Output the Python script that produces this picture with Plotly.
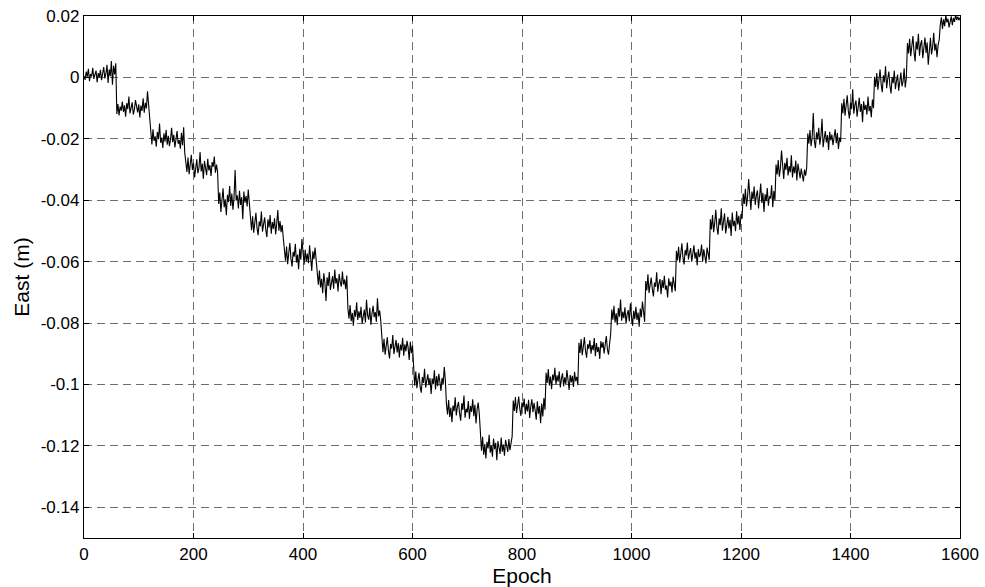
import plotly.graph_objects as go

east_mm_steps = [
    [0.5, -0.8, 1.9, 0.2, 2.8, -1.2, 1.1, 0.3, 3.1, -0.5, 0.9, 2.2, -1.6, 1.4, 0.0, 2.5, -0.9, 1.7, 3.4, -0.3, 1.2, 4.1, -1.8, 2.6, 0.4, 5.3, -2.4, 3.8, 1.0, 4.6],
    [-11.9, -8.7, -12.4, -9.5, -10.8, -7.9, -11.2, -9.1, -12.8, -8.4, -10.3, -6.2, -11.7, -9.9, -8.1, -12.1, -10.5, -7.4, -9.6, -11.4, -8.8, -13.0, -9.2, -10.9, -6.8, -11.5, -8.3, -10.1, -4.5, -9.4, -11.8],
    [-18.5, -21.8, -16.9, -20.7, -19.2, -22.6, -17.8, -20.1, -15.0, -21.3, -19.6, -23.0, -18.2, -20.9, -17.1, -21.9, -19.0, -22.4, -20.3, -16.4, -21.1, -18.7, -22.8, -19.8, -17.5, -21.6, -20.4, -23.2, -18.0, -22.1, -16.2, -24.5],
    [-27.4, -30.8, -26.1, -31.5, -28.3, -25.2, -30.1, -27.9, -32.6, -28.8, -26.7, -31.2, -29.5, -24.3, -30.6, -28.1, -33.0, -27.2, -29.9, -31.8, -26.5, -30.3, -28.6, -32.1, -27.6, -29.1, -25.8, -31.0, -28.4, -30.7],
    [-41.2, -37.5, -43.8, -38.9, -36.1, -42.3, -39.7, -44.9, -38.2, -40.6, -35.4, -41.9, -37.8, -43.1, -39.3, -30.2, -40.1, -38.4, -42.7, -36.9, -41.5, -39.0, -46.2, -37.2, -40.8, -38.6, -42.0, -36.5, -40.3],
    [-46.5, -49.8, -45.2, -50.6, -47.3, -44.1, -49.0, -51.4, -46.9, -48.5, -43.7, -50.2, -47.8, -45.6, -49.6, -52.0, -46.2, -48.9, -44.8, -50.9, -47.1, -49.3, -45.9, -51.1, -47.6, -43.2, -49.9, -46.8, -50.4, -48.1, -52.3],
    [-56.4, -59.7, -55.1, -60.8, -57.2, -53.9, -59.1, -61.6, -56.8, -58.4, -54.2, -60.3, -57.7, -62.5, -55.8, -59.4, -52.6, -58.9, -61.0, -56.1, -59.9, -57.4, -60.5, -54.7, -58.1, -63.0, -56.6, -59.2, -55.4, -60.1],
    [-64.2, -67.5, -62.9, -68.4, -65.6, -70.3, -63.8, -66.9, -72.8, -65.1, -67.9, -63.4, -69.2, -66.3, -64.7, -68.8, -62.6, -67.1, -65.4, -69.7, -64.0, -66.6, -68.1, -63.2, -67.4, -65.8, -69.0, -64.5],
    [-75.3, -78.6, -74.1, -79.4, -76.7, -80.9, -75.8, -77.9, -73.2, -79.0, -76.2, -78.3, -74.7, -80.2, -77.1, -75.6, -79.8, -72.4, -77.5, -78.9, -75.0, -80.5, -76.9, -74.4, -78.1, -76.4, -79.6, -71.9, -77.8, -75.9, -79.2],
    [-86.2, -89.5, -85.1, -90.3, -87.4, -84.6, -89.0, -91.5, -86.8, -88.3, -83.9, -90.1, -87.7, -85.5, -89.6, -86.5, -91.2, -87.0, -88.9, -84.8, -90.6, -86.9, -89.2, -85.8, -88.0, -92.0, -86.1, -89.8, -87.3],
    [-97.1, -100.4, -95.8, -101.2, -98.3, -96.2, -100.9, -102.7, -97.6, -99.5, -94.9, -101.0, -98.8, -96.7, -100.2, -97.9, -103.1, -98.1, -99.9, -95.4, -101.6, -97.3, -100.6, -96.5, -99.2, -102.1, -97.8, -100.0, -94.3, -98.6],
    [-106.4, -109.8, -105.1, -110.6, -107.5, -112.3, -106.9, -108.7, -104.2, -110.1, -107.2, -105.7, -109.4, -111.8, -106.1, -108.3, -103.6, -110.8, -107.9, -109.1, -105.4, -111.2, -107.0, -108.9, -104.8, -110.3, -106.6, -112.7, -108.1, -105.9, -109.6],
    [-118.2, -121.6, -117.0, -122.9, -119.4, -124.1, -118.7, -120.8, -116.4, -122.2, -119.9, -123.5, -117.6, -121.1, -119.0, -124.7, -118.4, -120.5, -122.6, -117.3, -121.9, -119.6, -123.2, -118.0, -120.2, -122.0, -117.8, -121.4, -119.1, -116.9],
    [-105.2, -108.6, -104.1, -109.3, -106.7, -103.9, -108.0, -110.2, -105.8, -107.4, -104.6, -109.7, -106.3, -108.8, -105.0, -110.9, -107.1, -104.8, -109.0, -106.0, -108.4, -111.5, -105.5, -109.5, -107.0, -112.6, -106.2, -110.4, -104.4, -108.2],
    [-96.2, -99.5, -95.0, -100.3, -97.4, -101.5, -96.8, -98.7, -94.6, -100.0, -97.0, -99.1, -95.7, -101.0, -98.1, -96.4, -100.6, -97.7, -99.8, -95.3, -98.4, -101.8, -96.9, -99.3, -97.2, -100.8, -95.9, -98.9, -97.5, -100.2],
    [-86.4, -89.7, -85.2, -90.5, -87.6, -84.6, -89.1, -91.3, -86.9, -88.4, -85.6, -90.0, -87.2, -88.8, -84.9, -90.8, -86.5, -89.4, -87.8, -91.7, -85.9, -88.1, -86.2, -89.9, -87.0, -84.2, -88.6, -90.3, -86.7, -83.5],
    [-75.6, -78.9, -74.4, -79.8, -76.8, -80.7, -75.1, -77.9, -72.3, -79.2, -76.3, -78.4, -74.9, -80.2, -77.2, -75.8, -79.5, -73.6, -77.6, -80.9, -76.0, -78.7, -74.7, -79.0, -76.6, -81.2, -75.3, -78.1, -73.0, -77.0, -79.6],
    [-66.3, -69.4, -64.1, -70.2, -67.5, -65.2, -68.9, -71.3, -66.8, -68.2, -63.5, -69.8, -67.1, -65.7, -70.6, -66.0, -68.6, -64.6, -69.1, -67.8, -71.7, -65.4, -68.0, -66.5, -70.0, -64.9, -67.3, -69.6],
    [-56.5, -59.6, -55.2, -60.3, -57.4, -54.0, -58.8, -60.9, -56.2, -58.0, -53.8, -59.3, -57.1, -55.6, -60.0, -57.8, -54.7, -59.0, -56.9, -61.2, -55.9, -58.5, -57.6, -54.4, -59.9, -56.0, -58.2, -60.6, -55.4, -57.2, -59.4],
    [-46.2, -49.5, -44.8, -50.4, -47.3, -43.1, -48.9, -51.2, -45.9, -48.1, -42.6, -49.9, -46.9, -44.3, -50.8, -47.6, -45.4, -49.2, -46.4, -51.6, -44.0, -48.4, -46.7, -50.1, -43.6, -47.9, -45.1, -49.7, -44.5, -46.0],
    [-37.8, -41.2, -36.3, -42.0, -38.9, -33.1, -40.6, -43.2, -37.2, -39.7, -35.5, -41.5, -38.4, -36.8, -42.7, -39.1, -34.6, -40.9, -37.6, -43.8, -38.1, -40.3, -36.0, -41.8, -38.7, -39.4, -35.1, -42.3, -37.0, -40.0],
    [-28.4, -31.6, -26.9, -32.3, -29.5, -23.8, -30.7, -33.1, -27.8, -30.1, -26.2, -31.9, -28.9, -30.9, -25.4, -32.6, -29.0, -31.2, -27.1, -33.6, -28.1, -30.4, -32.8, -29.7, -31.4, -33.9, -30.0, -32.0, -29.3],
    [-18.3, -21.6, -17.1, -22.4, -19.5, -11.6, -20.8, -23.0, -17.9, -20.2, -16.4, -21.9, -19.0, -13.5, -22.7, -19.8, -17.5, -21.2, -18.8, -23.6, -17.7, -20.5, -18.6, -22.1, -19.3, -16.9, -21.4, -18.1, -23.3, -19.6, -21.0],
    [-8.4, -11.7, -7.0, -12.5, -9.6, -5.8, -10.9, -13.4, -8.1, -10.3, -3.9, -11.8, -9.0, -7.5, -12.8, -9.9, -6.6, -11.2, -8.7, -14.6, -7.8, -10.6, -8.9, -12.1, -6.2, -11.0, -9.3, -13.0, -7.2, -10.0],
    [0.2, -3.1, 1.4, -4.0, -0.9, 2.6, -2.3, -4.8, 0.7, -1.6, 3.6, -3.5, -0.4, 1.9, -2.7, -5.2, 0.1, -1.9, 2.2, -3.8, -1.1, 0.9, -4.3, -0.6, 1.6, -2.9, -1.3, 3.0, -3.3, -0.2],
    [11.2, 7.8, 12.6, 6.9, 10.3, 13.5, 8.4, 5.2, 11.7, 9.0, 14.2, 7.1, 10.8, 12.1, 6.3, 9.6, 13.0, 8.0, 11.4, 4.1, 10.0, 12.9, 7.5, 9.9, 14.5, 8.7, 11.0, 6.6, 10.5, 12.3],
    [17.2, 19.6, 15.8, 18.9, 16.7, 20.3, 17.9, 19.1, 16.3, 18.4, 19.9, 17.0, 19.4, 18.1, 20.5, 18.7, 19.8, 18.6, 19.5],
]
epoch_step = 2

x_tickvals = [0, 200, 400, 600, 800, 1000, 1200, 1400, 1600]
x_ticktext = ["0", "200", "400", "600", "800", "1000", "1200", "1400", "1600"]
y_tickvals = [0.02, 0, -0.02, -0.04, -0.06, -0.08, -0.1, -0.12, -0.14]
y_ticktext = ["0.02", "0", "-0.02", "-0.04", "-0.06", "-0.08", "-0.1", "-0.12", "-0.14"]

east_m = [v / 1000.0 for row in east_mm_steps for v in row]
epochs = [i * epoch_step for i in range(len(east_m))]

fig = go.Figure()
fig.add_trace(go.Scatter(x=epochs, y=east_m, mode="lines",
                         line=dict(color="black", width=1.1), showlegend=False,
                         hoverinfo="skip"))

font_family = "Liberation Sans, Arial, sans-serif"
axis_common = dict(
    showline=True, linecolor="black", linewidth=1.3, mirror="allticks",
    ticks="inside", ticklen=5, tickcolor="black", tickwidth=1,
    showgrid=True, gridcolor="#6e6e6e", gridwidth=1, griddash="8px,5px",
    zeroline=False, automargin=False,
    tickfont=dict(family=font_family, size=17, color="black"),
)

fig.update_layout(
    width=985, height=587,
    margin=dict(l=84, r=25, t=16, b=49, autoexpand=False),
    paper_bgcolor="white", plot_bgcolor="white",
    font=dict(family=font_family, color="black"),
    xaxis=dict(range=[0, 1600], tickvals=x_tickvals, ticktext=x_ticktext,
               title=dict(text="Epoch", font=dict(size=21), standoff=0), **axis_common),
    yaxis=dict(range=[-0.15, 0.02], tickvals=y_tickvals, ticktext=y_ticktext,
               title=dict(text="East (m)", font=dict(size=21), standoff=5), **axis_common),
)

fig.write_html("out.html", config={"displayModeBar": False},
               post_script="document.body.style.margin='0';document.body.style.overflow='hidden';")
